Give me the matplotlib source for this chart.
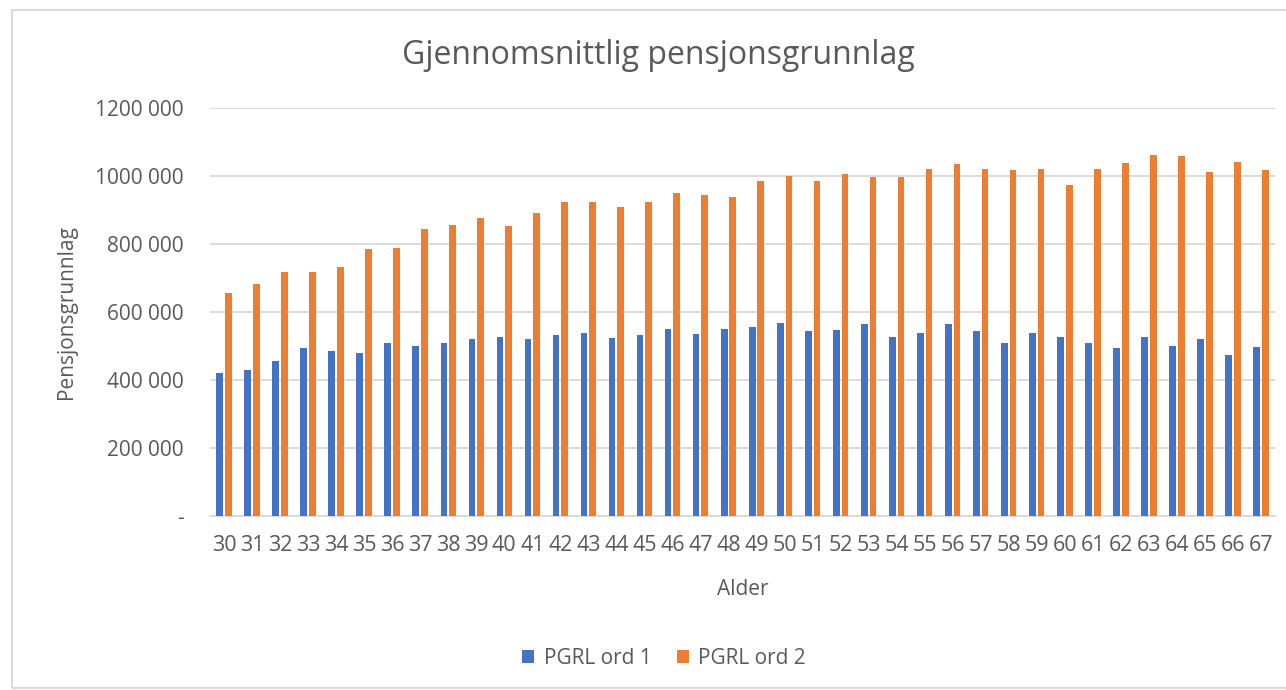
import numpy as np
import matplotlib
matplotlib.use("Agg")
import matplotlib.pyplot as plt
from matplotlib.patches import Rectangle
from matplotlib.ticker import FuncFormatter

plt.rcParams['font.family'] = ['Open Sans', 'DejaVu Sans']

# data
alder = list(range(30, 68))
pgrl_ord1 = [421000, 429000, 456000, 494000, 486000, 479000, 509000, 501000, 509000, 520000,
             527000, 520000, 532000, 539000, 523000, 531000, 550000, 535000, 550000, 557000,
             569000, 543000, 547000, 565000, 527000, 539000, 565000, 543000, 508000, 539000,
             527000, 508000, 494000, 527000, 501000, 520000, 474000, 497000]
pgrl_ord2 = [656000, 683000, 717000, 717000, 733000, 785000, 789000, 845000, 857000, 876000,
             853000, 891000, 925000, 925000, 910000, 925000, 951000, 943000, 937000, 985000,
             1000000, 985000, 1005000, 997000, 997000, 1022000, 1034000, 1022000, 1019000, 1022000,
             974000, 1022000, 1038000, 1062000, 1058000, 1011000, 1042000, 1019000]

blue = "#4472C4"
orange = "#ED7D31"
txt = "#595959"

fig = plt.figure(figsize=(12.86, 6.9), dpi=100)
ax = fig.add_axes([210/1286, 1-516/690, 1065/1286, 408/690])

x = np.arange(len(alder))
w = 0.24
ax.bar(x - 0.155, pgrl_ord1, w, color=blue, label="PGRL ord 1", zorder=3)
ax.bar(x + 0.155, pgrl_ord2, w, color=orange, label="PGRL ord 2", zorder=3)

ax.set_xlim(-0.5, len(alder) - 0.5)
ax.set_ylim(0, 1200000)
ax.set_yticks(np.arange(0, 1200001, 200000))

# Excel-style: "1200 000", "800 000", "-" for zero
def fmt(v, pos):
    v = int(round(v))
    if v == 0:
        return "-"
    return f"{v // 1000} {v % 1000:03d}"
ax.yaxis.set_major_formatter(FuncFormatter(fmt))
ax.set_xticks(x)
ax.set_xticklabels([str(a) for a in alder])

ax.grid(axis="y", color="#D9D9D9", linewidth=1.3, zorder=0)
for s in ["top", "right", "left"]:
    ax.spines[s].set_visible(False)
ax.spines["bottom"].set_color("#D9D9D9")
ax.spines["bottom"].set_linewidth(1.3)
ax.tick_params(axis="both", length=0, colors=txt, labelsize=15)
ax.tick_params(axis="x", pad=14, labelsize=15.5)
ax.tick_params(axis="y", pad=19)

ax.set_xlabel("Alder", fontsize=15, color=txt, labelpad=16)
ax.set_ylabel("Pensjonsgrunnlag", fontsize=15, color=txt, labelpad=13)

fig.text(658/1286, 1-55/690, "Gjennomsnittlig pensjonsgrunnlag", fontsize=23,
         color=txt, ha="center", va="center")

fig.legend(loc="center", bbox_to_anchor=(664/1286, 1-658/690), ncol=2, frameon=False,
           fontsize=15, labelcolor=txt, handlelength=0.6, handleheight=0.6,
           handletextpad=0.45, columnspacing=1.2)

fig.patches.append(Rectangle((12/1286, 0.003), 1.1, 1-10/690-0.003, transform=fig.transFigure,
                             fill=False, edgecolor="#D9D9D9", linewidth=1.5))

fig.savefig("out.png", dpi=100)
